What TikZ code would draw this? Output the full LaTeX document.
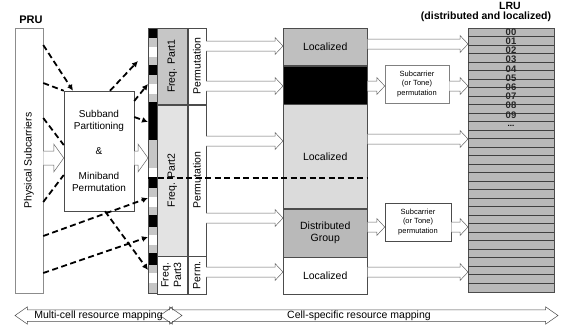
\documentclass[tikz,border=0pt]{standalone}
\usepackage{fontspec}
\setmainfont{Liberation Sans}
\usetikzlibrary{arrows.meta,positioning,shapes.arrows,calc}

% hollow block arrow: start, end, shaft half width, head half width, head length
\newcommand{\hollowarrow}[5]{%
  \draw[hollow] let \p1=(#1), \p2=(#2) in
    (\x1,\y1+#3) -- (\x2-#5,\y1+#3) -- (\x2-#5,\y1+#4) -- (\x2,\y1)
    -- (\x2-#5,\y1-#4) -- (\x2-#5,\y1-#3) -- (\x1,\y1-#3);}

\begin{document}
\begin{tikzpicture}[
    x=1pt, y=-1pt,
    every node/.style={inner sep=0pt, font=\fontsize{10.5}{12.5}\selectfont},
    box/.style={draw=black!70, line width=0.5pt, align=center},
    lbl/.style={font=\bfseries\fontsize{10.5}{11}\selectfont, align=center},
    small/.style={font=\fontsize{7.5}{9.5}\selectfont},
    hollow/.style={draw=black!60, fill=white, line width=0.5pt},
    dashline/.style={line width=1.8pt, dash pattern=on 6pt off 3.5pt},
    dasharrow/.style={dashline, -{Latex[length=6pt,width=6pt]}},
    mapping/.style={double arrow, draw=black!70, line width=0.5pt, minimum width=17pt,
      double arrow head extend=3pt, double arrow tip angle=70, inner xsep=2pt, inner ysep=0.6pt}
]
\useasboundingbox (0,0) rectangle (578,327);

% PRU side
\node[lbl, font=\bfseries\fontsize{11}{12}\selectfont] (pru) at (31,20) {PRU};
\node[box, draw=black!45, minimum width=28pt, minimum height=265pt] (phys) at (29,160.5)
  {\rotatebox{90}{Physical Subcarriers}};
\node[box, fill=white, minimum width=70pt, minimum height=120pt, font=\fontsize{10}{12}\selectfont] (subband) at (99,151)
  {Subband\\Partitioning\\[13pt]\&\\[13pt]Miniband\\Permutation};

% subcarrier strip
\foreach \ya/\yb/\col in {28/38/black, 38/47/gray!45, 47/57/white, 57/65/gray!45,
    65/75/black, 75/84/gray!45, 84/94/white, 94/102/gray!45, 102/140/black,
    140/168/gray!45, 168/177/white, 177/188/black, 188/197/gray!45, 197/207/white,
    207/215/gray!45, 215/227/black, 227/235/gray!45, 235/245/white, 245/253/gray!45,
    253/265/black, 265/273/gray!45, 273/283/white, 283/293/gray!45}
  \fill[\col] (148,\ya) rectangle (157,\yb);
\node[box, minimum width=9pt, minimum height=265pt, anchor=north west] (strip) at (148,28) {};

% frequency partitions
\node[box, fill=gray!45, minimum width=30pt, minimum height=76pt, anchor=north west] (fp1) at (157,28)
  {\rotatebox{90}{Freq. Part1}};
\node[box, fill=gray!22, minimum width=30pt, minimum height=151pt, below=0pt of fp1] (fp2)
  {\rotatebox{90}{Freq. Part2}};
\node[box, fill=white, minimum width=30pt, minimum height=38pt, below=0pt of fp2] (fp3)
  {\rotatebox{90}{\begin{tabular}{@{}c@{}}Freq.\\Part3\end{tabular}}};
\node[box, fill=white, minimum width=18pt, minimum height=76pt, right=0pt of fp1] (pm1)
  {\rotatebox{90}{Permutation}};
\node[box, fill=white, minimum width=18pt, minimum height=151pt, right=0pt of fp2] (pm2)
  {\rotatebox{90}{Permutation}};
\node[box, fill=white, minimum width=18pt, minimum height=38pt, right=0pt of fp3] (pm3)
  {\rotatebox{90}{Perm.}};

% cell-specific groups
\node[box, fill=gray!50, minimum width=84pt, minimum height=37pt, anchor=north west] (mloc1) at (283,28) {Localized};
\node[box, fill=black, minimum width=84pt, minimum height=38pt, below=0pt of mloc1] (mblack) {};
\node[box, fill=gray!28, minimum width=84pt, minimum height=104pt, below=0pt of mblack] (mloc2) {Localized};
\node[box, fill=gray!55, minimum width=84pt, minimum height=48pt, below=0pt of mloc2] (mdist) {Distributed\\Group};
\node[box, fill=white, minimum width=84pt, minimum height=37pt, below=0pt of mdist] (mloc3) {Localized};

\node[box, small, draw=black!50, minimum width=64pt, minimum height=38pt] (sub1) at (417,84)
  {Subcarrier\\(or Tone)\\permutation};
\node[box, small, minimum width=66pt, minimum height=38pt] (sub2) at (418,222)
  {Subcarrier\\(or Tone)\\permutation};

% LRU column
\node[box, fill=gray!55, minimum width=86pt, minimum height=264pt, anchor=north west] (lru) at (468,28) {};
\foreach \k in {1,...,30}
  \draw[black!75, line width=0.9pt] (468,{28+8.5*\k}) -- (554,{28+8.5*\k});
\foreach \n [count=\i from 0] in {00,01,02,03,04,05,06,07,08,09}
  \node[font=\bfseries\fontsize{9.5}{9.5}\selectfont, text=black!85] (num\n) at (511,{32+9.2*\i}) {\n};
\node[font=\bfseries\fontsize{8}{8}\selectfont] (lrudots) at (511,126) {...};
\node[lbl] (lrulbl) at (510,6) {LRU};
\node[lbl] (lrusub) at (486,17) {(distributed and localized)};

% block arrows
\hollowarrow{phys.east |- 0,158}{subband.west |- 0,158}{7pt}{14pt}{10pt}
\hollowarrow{subband.east |- 0,158}{strip.west |- 0,158}{7pt}{14pt}{10pt}
\hollowarrow{pm1.east |- 0,46}{mloc1.west |- 0,46}{5pt}{8.5pt}{8pt}
\hollowarrow{pm1.east |- 0,86}{mblack.west |- 0,86}{5pt}{8.5pt}{8pt}
\hollowarrow{pm2.east |- 0,141}{mloc2.west |- 0,141}{5pt}{8.5pt}{8pt}
\hollowarrow{pm2.east |- 0,218}{mdist.west |- 0,218}{5pt}{8.5pt}{8pt}
\hollowarrow{pm3.east |- 0,272}{mloc3.west |- 0,272}{5pt}{8.5pt}{8pt}
\hollowarrow{mloc1.east |- 0,44}{lru.west |- 0,44}{5pt}{8.5pt}{8pt}
\hollowarrow{mblack.east |- 0,86}{sub1.west |- 0,86}{5pt}{8.5pt}{8pt}
\hollowarrow{sub1.east |- 0,86}{lru.west |- 0,86}{5pt}{8.5pt}{8pt}
\hollowarrow{mloc2.east |- 0,139}{lru.west |- 0,139}{5pt}{8.5pt}{8pt}
\hollowarrow{mdist.east |- 0,227}{sub2.west |- 0,227}{5pt}{8.5pt}{8pt}
\hollowarrow{sub2.east |- 0,227}{lru.west |- 0,227}{5pt}{8.5pt}{8pt}
\hollowarrow{mloc3.east |- 0,272}{lru.west |- 0,272}{5pt}{8.5pt}{8pt}

% dashed mapping lines
\coordinate (tipa) at (138,61);
\draw[dasharrow] (phys.east |- 0,45) -- (subband.north -| 73,0);
\draw[dashline] (phys.east |- 0,83) -- (subband.north west);
\draw[dashline] (phys.east |- 0,118) -- (subband.west |- 0,145);
\draw[dashline] (phys.east |- 0,202) -- (subband.west |- 0,175);
\draw[dasharrow] (subband.north -| 110,0) -- (tipa);
\draw[dasharrow] (subband.east |- 0,101) -- (strip.west |- 0,84);
\draw[dasharrow] (subband.east |- 0,117) -- (strip.west |- 0,122);
\draw[dasharrow] (phys.east |- 0,236) -- (strip.west |- 0,198);
\draw[dasharrow] (phys.east |- 0,273) -- (strip.west |- 0,237);
\draw[dasharrow] (subband.south -| 105,0) -- (strip.west |- 0,270);
\draw[dashline] (strip.west |- 0,178) -- (mloc2.east |- 0,178);

% resource mapping ranges
\node[mapping, minimum height=167pt] (multicell) at (98.5,315.5) {Multi-cell resource mapping};
\node[mapping, minimum height=398pt] (cellspec) at (359,315.5) {Cell-specific resource mapping};

\end{tikzpicture}
\end{document}
